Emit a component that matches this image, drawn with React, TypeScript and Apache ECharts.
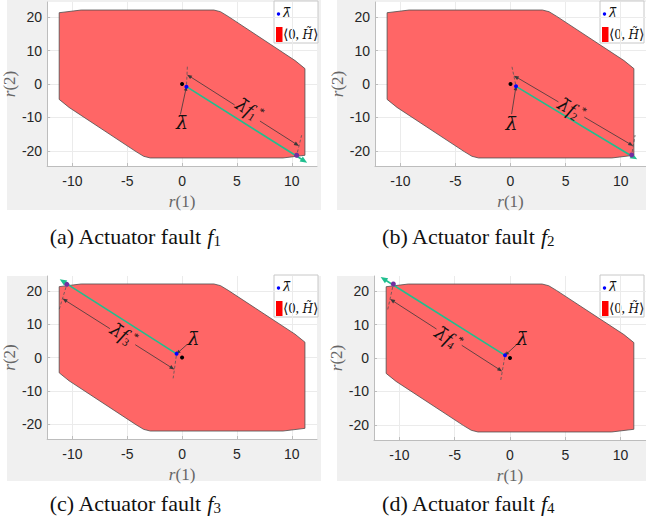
import React, { useEffect, useRef } from "react";
import * as echarts from "echarts";

// ---------- data ----------
const panelLetters = ["a", "b", "c", "d"];
const faultNumbers = ["1", "2", "3", "4"];

// zonotope <0, H~> vertices (same in all panels)
const hullR1 = [-11.2, -9.2, 2.9, 3.5, 4.2, 10.3, 11.2, 11.2, 9.2, -2.9, -3.5, -4.2, -10.3, -11.2];
const hullR2 = [21.3, 22.1, 22.1, 21.6, 20.2, 7.0, 4.6, -21.3, -22.1, -22.1, -21.6, -20.2, -7.0, -4.6];

const originR1 = [0, 0, 0, 0];
const originR2 = [0, 0, 0, 0];
const lambdaR1 = [0.4, 0.5, -0.5, -0.45];
const lambdaR2 = [-0.8, -0.7, 1.1, 0.8];
const faultEndR1 = [10.45, 11.0, -10.5, -10.55];
const faultEndR2 = [-21.3, -21.2, 22.0, 22.1];
const arrowTipR1 = [11.4, 11.5, -11.15, -11.7];
const arrowTipR2 = [-23.5, -22.5, 23.5, 24.2];
const dimStartR1 = [0.45, 0.3, -0.7, -0.7];
const dimStartR2 = [2.8, 2.5, -3.6, -4.0];
const dimEndR1 = [10.66, 11.14, -10.9, -10.85];
const dimEndR2 = [-18.5, -18.5, 17.7, 17.6];
const faultLabelR1 = [6.15, 5.55, -5.3, -5.55];
const faultLabelR2 = [-7.6, -7.5, 6.9, 6.0];
const lambdaLabelR1 = [0, 0.1, 1.05, 1.1];
const lambdaLabelR2 = [-11.5, -11.6, 5.9, 6.0];
const leaderR1 = [-0.15, 0.1, 0.45, 0.6];
const leaderR2 = [-9.1, -9.0, 3.9, 4.0];

const xMin = -12.3, xMax = 12.3;
const yMin = -24.5, yMax = 24.5;

// ---------- layout ----------
const gridRects = [
  { left: 44, top: 2, width: 273, height: 164 },
  { left: 375, top: 2, width: 274, height: 164 },
  { left: 44, top: 276, width: 273, height: 163 },
  { left: 374, top: 276, width: 274, height: 164 },
];
const panelRects = [
  { x: 7, y: 0, w: 314, h: 210 },
  { x: 337, y: 0, w: 309, h: 210 },
  { x: 7, y: 276, w: 314, h: 205 },
  { x: 337, y: 276, w: 309, h: 205 },
];
const captionPos = [
  [135, 236],
  [468, 236],
  [135, 503],
  [468, 503],
];

const SERIF = "'Liberation Serif', 'DejaVu Serif', serif";
const DJSERIF = "'DejaVu Serif', serif";
const SANS = "'Liberation Sans', Arial, sans-serif";
const LAMBAR = "\u03bb\u0304";
const GREEN = "#1fbf8f";
const FILL = "#ff6666";

type Pt = number[];
const vsub = (a: Pt, b: Pt) => [a[0] - b[0], a[1] - b[1]];
const unit = (v: Pt) => {
  const l = Math.hypot(v[0], v[1]) || 1;
  return [v[0] / l, v[1] / l];
};
const along = (p: Pt, u: Pt, d: number) => [p[0] + u[0] * d, p[1] + u[1] * d];

function head(from: Pt, to: Pt, len: number, half: number, color: string) {
  const u = unit(vsub(to, from));
  const n = [-u[1], u[0]];
  const b = along(to, u, -len);
  return {
    type: "polygon",
    shape: {
      points: [to, [b[0] + n[0] * half, b[1] + n[1] * half], [b[0] - n[0] * half, b[1] - n[1] * half]],
    },
    style: { fill: color },
  };
}

function line(a: Pt, b: Pt, style: any) {
  return { type: "line", shape: { x1: a[0], y1: a[1], x2: b[0], y2: b[1] }, style };
}

function hullRender(params: any, api: any) {
  const points = hullR1.map((x, k) => api.coord([x, hullR2[k]]));
  return {
    type: "polygon",
    shape: { points },
    style: { fill: FILL, stroke: "#4d4d4d", lineWidth: 0.8 },
  };
}

function annotationRender(i: number) {
  return (params: any, api: any) => {
    const P = (x: number, y: number) => api.coord([x, y]);
    const o = P(originR1[i], originR2[i]);
    const lb = P(lambdaR1[i], lambdaR2[i]);
    const fe = P(faultEndR1[i], faultEndR2[i]);
    const tip = P(arrowTipR1[i], arrowTipR2[i]);
    const ds = P(dimStartR1[i], dimStartR2[i]);
    const de = P(dimEndR1[i], dimEndR2[i]);
    const fl = P(faultLabelR1[i], faultLabelR2[i]);
    const ll = P(lambdaLabelR1[i], lambdaLabelR2[i]);
    const ls = P(leaderR1[i], leaderR2[i]);

    const dark = "#3a3a3a";
    const dash = { stroke: "#555", lineWidth: 0.8, lineDash: [3, 2] };
    const thin = { stroke: dark, lineWidth: 0.8 };

    const u1 = unit(vsub(ds, lb));
    const u2 = unit(vsub(de, fe));
    const du = unit(vsub(de, ds));
    const dlen = Math.hypot(de[0] - ds[0], de[1] - ds[1]);
    const t = (fl[0] - ds[0]) * du[0] + (fl[1] - ds[1]) * du[1];
    const gap = 15;
    const g1 = along(ds, du, Math.max(0, t - gap));
    const g2 = along(ds, du, Math.min(dlen, t + gap));

    let dx = de[0] - ds[0], dy = de[1] - ds[1];
    if (dx < 0) { dx = -dx; dy = -dy; }
    const rot = -Math.atan2(dy, dx);

    const gu = unit(vsub(tip, lb));
    const children: any[] = [
      line(along(lb, u1, -3), along(ds, u1, 9), dash),
      line(along(fe, u2, -2), along(de, u2, 11), dash),
      line(along(ds, du, 3), g1, thin),
      line(g2, along(de, du, -3), thin),
      head(g1, ds, 5, 2, dark),
      head(g2, de, 5, 2, dark),
      line(ls, along(lb, unit(vsub(lb, ls)), -2), thin),
      head(ls, lb, 4, 1.8, dark),
      line(lb, along(tip, gu, -6), { stroke: GREEN, lineWidth: 1.6 }),
      head(lb, tip, 7, 3, GREEN),
      { type: "circle", shape: { cx: o[0], cy: o[1], r: 2 }, style: { fill: "#000" } },
      { type: "circle", shape: { cx: lb[0], cy: lb[1], r: 2 }, style: { fill: "#0000ff" } },
      { type: "circle", shape: { cx: fe[0], cy: fe[1], r: 2.5 }, style: { fill: "#7030a0" } },
      {
        type: "text",
        x: fl[0],
        y: fl[1],
        rotation: rot,
        style: {
          text: "{l|" + LAMBAR + "}{f|f}{s|" + faultNumbers[i] + "}{p|*}",
          align: "center",
          verticalAlign: "middle",
          rich: {
            l: { fontFamily: DJSERIF, fontStyle: "italic", fontSize: 18, fill: "#111", lineHeight: 22 },
            f: { fontFamily: SERIF, fontStyle: "italic", fontSize: 20, fill: "#111", lineHeight: 22 },
            s: { fontFamily: SERIF, fontSize: 11, fill: "#111", lineHeight: 22, padding: [10, 0, 0, 0] },
            p: { fontFamily: SERIF, fontSize: 11, fill: "#111", lineHeight: 22, padding: [0, 0, 10, 0] },
          },
        },
      },
      {
        type: "text",
        x: ll[0],
        y: ll[1],
        style: {
          text: LAMBAR,
          align: "center",
          verticalAlign: "middle",
          fontFamily: DJSERIF,
          fontStyle: "italic",
          fontSize: 19,
          fill: "#111",
        },
      },
    ];
    return { type: "group", children };
  };
}

function buildGraphic() {
  const g: any[] = [];
  panelRects.forEach((r) => {
    g.push({ type: "rect", z: -10, shape: { x: r.x, y: r.y, width: r.w, height: r.h }, style: { fill: "#f0f0f0" } });
  });
  gridRects.forEach((gr) => {
    const bx = Math.min(gr.left + gr.width - 43, 646 - 46);
    const by = gr.top - 1;
    g.push({
      type: "group",
      z: 100,
      children: [
        { type: "rect", shape: { x: bx, y: by, width: 44, height: 42 }, style: { fill: "#fff", stroke: "#c8c8c8", lineWidth: 1 } },
        { type: "circle", shape: { cx: bx + 4.5, cy: by + 13, r: 1.7 }, style: { fill: "#0000ff" } },
        {
          type: "text",
          style: { x: bx + 8, y: by + 12, text: LAMBAR, fontFamily: DJSERIF, fontStyle: "italic", fontSize: 15, fill: "#111", align: "left", verticalAlign: "middle" },
        },
        { type: "rect", shape: { x: bx + 2, y: by + 26, width: 6.5, height: 15 }, style: { fill: "#ff0000" } },
        {
          type: "text",
          style: {
            x: bx + 9,
            y: by + 33.5,
            text: "{n|\u27e80, }{h|H\u0303}{n|\u27e9}",
            align: "left",
            verticalAlign: "middle",
            rich: {
              n: { fontFamily: SERIF, fontSize: 14, fill: "#111" },
              h: { fontFamily: DJSERIF, fontStyle: "italic", fontSize: 12, fill: "#111" },
            },
          },
        },
      ],
    });
  });
  captionPos.forEach((p, i) => {
    g.push({
      type: "text",
      z: 100,
      style: {
        x: p[0],
        y: p[1],
        text: "{t|(" + panelLetters[i] + ") Actuator fault }{f|f}{s|" + faultNumbers[i] + "}",
        align: "center",
        verticalAlign: "middle",
        rich: {
          t: { fontFamily: SERIF, fontSize: 22, fill: "#111", lineHeight: 26 },
          f: { fontFamily: SERIF, fontStyle: "italic", fontSize: 22, fill: "#111", lineHeight: 26 },
          s: { fontFamily: SERIF, fontSize: 15, fill: "#111", lineHeight: 26, padding: [9, 0, 0, 0] },
        },
      },
    });
  });
  return g;
}

const axisNameRich = {
  i: { fontFamily: SERIF, fontStyle: "italic", fontSize: 17, color: "#666" },
  n: { fontFamily: SERIF, fontSize: 17, color: "#666" },
};

export default function App() {
  const ref = useRef<HTMLDivElement>(null);
  useEffect(() => {
    if (!ref.current) return;
    const chart = echarts.init(ref.current, null, { renderer: "svg" });
    const option: any = {
      animation: false,
      backgroundColor: "#fff",
      grid: gridRects.map((g) => ({ ...g, show: true, backgroundColor: "#fff", borderWidth: 0, z: 0 })),
      xAxis: gridRects.map((g, i) => ({
        type: "value",
        gridIndex: i,
        min: xMin,
        max: xMax,
        splitNumber: 5,
        name: "{i|r}{n|(1)}",
        nameLocation: "middle",
        nameGap: 27,
        nameTextStyle: { rich: axisNameRich },
        axisLine: { show: true, onZero: false, lineStyle: { color: "#bdbdbd", width: 1 } },
        axisTick: { show: true, inside: true, length: 3, lineStyle: { color: "#bdbdbd" } },
        axisLabel: {
          show: true,
          margin: 8,
          fontFamily: SANS,
          fontSize: 14,
          color: "#262626",
          showMinLabel: false,
          showMaxLabel: false,
          formatter: (v: number) => (Math.abs(v % 5) < 1e-6 ? String(v) : ""),
        },
        splitLine: { show: true, showMinLine: false, showMaxLine: false, lineStyle: { color: "#ebebeb", width: 1 } },
      })),
      yAxis: gridRects.map((g, i) => ({
        type: "value",
        gridIndex: i,
        min: yMin,
        max: yMax,
        splitNumber: 5,
        name: "{i|r}{n|(2)}",
        nameLocation: "middle",
        nameGap: 19,
        nameRotate: 90,
        nameTextStyle: { rich: axisNameRich },
        axisLine: { show: true, onZero: false, lineStyle: { color: "#bdbdbd", width: 1 } },
        axisTick: { show: true, inside: true, length: 3, lineStyle: { color: "#bdbdbd" } },
        axisLabel: {
          show: true,
          margin: 5,
          fontFamily: SANS,
          fontSize: 14,
          color: "#262626",
          showMinLabel: false,
          showMaxLabel: false,
          formatter: (v: number) => (Math.abs(v % 10) < 1e-6 ? String(v) : ""),
        },
        splitLine: { show: true, showMinLine: false, showMaxLine: false, lineStyle: { color: "#ebebeb", width: 1 } },
      })),
      series: [
        ...gridRects.map((g, i) => ({
          type: "custom",
          name: "hull" + i,
          xAxisIndex: i,
          yAxisIndex: i,
          z: 2,
          clip: false,
          renderItem: hullRender,
          data: [[hullR1[0], hullR2[0]]],
          silent: true,
        })),
        ...gridRects.map((g, i) => ({
          type: "custom",
          name: "annot" + i,
          xAxisIndex: i,
          yAxisIndex: i,
          z: 5,
          clip: false,
          renderItem: annotationRender(i),
          data: [[lambdaR1[i], lambdaR2[i]]],
          silent: true,
        })),
      ],
      graphic: buildGraphic(),
    };
    chart.setOption(option);
    return () => chart.dispose();
  }, []);
  return <div ref={ref} style={{ position: "fixed", left: 0, top: 0, width: 646, height: 523 }} />;
}
